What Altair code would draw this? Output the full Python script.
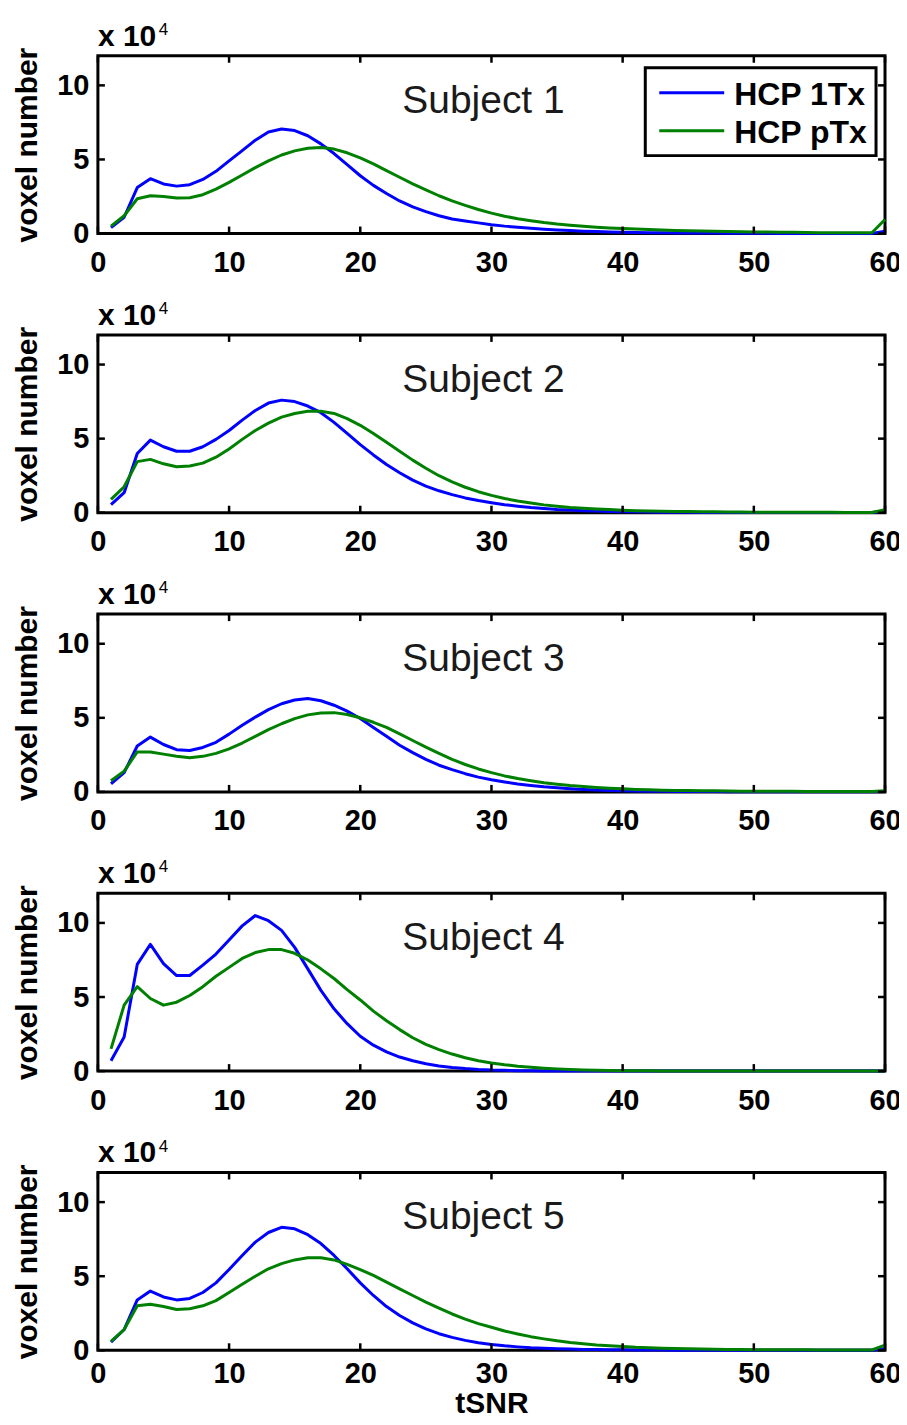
import altair as alt
import pandas as pd

# ---------------- data ----------------
tsnr = list(range(1, 61))
series_names = ["HCP 1Tx", "HCP pTx"]
series_colors = ["#0000ff", "#008000"]
subjects = ["Subject 1", "Subject 2", "Subject 3", "Subject 4", "Subject 5"]
x_ticks = [0, 10, 20, 30, 40, 50, 60]
y_ticks = [0, 5, 10]
exp_base = "x 10"
exp_power = "4"
x_title = "tSNR"
y_title = "voxel number"

# voxel number (x 10^4) per tSNR bin 1..60
s1_1tx = [0.4, 1.1, 3.1, 3.7, 3.35, 3.2, 3.3, 3.65, 4.2, 4.9,
          5.6, 6.3, 6.85, 7.05, 6.95, 6.6, 6.05, 5.4, 4.65, 3.9,
          3.25, 2.7, 2.2, 1.8, 1.48, 1.2, 0.98, 0.85, 0.72, 0.6,
          0.5, 0.42, 0.35, 0.29, 0.24, 0.2, 0.16, 0.13, 0.11, 0.09,
          0.07, 0.06, 0.05, 0.04, 0.04, 0.03, 0.03, 0.02, 0.02, 0.02,
          0.02, 0.01, 0.01, 0.01, 0.01, 0.01, 0.01, 0.01, 0.01, 0.15]
s1_ptx = [0.5, 1.2, 2.35, 2.55, 2.5, 2.4, 2.42, 2.62, 3.0, 3.45,
          3.95, 4.45, 4.9, 5.3, 5.58, 5.75, 5.8, 5.7, 5.45, 5.1,
          4.7, 4.25, 3.8, 3.35, 2.95, 2.55, 2.2, 1.9, 1.62, 1.38,
          1.17, 1.0, 0.86, 0.74, 0.64, 0.56, 0.49, 0.43, 0.38, 0.34,
          0.3, 0.27, 0.24, 0.21, 0.19, 0.17, 0.15, 0.13, 0.12, 0.11,
          0.1, 0.09, 0.08, 0.07, 0.06, 0.06, 0.05, 0.05, 0.05, 0.95]
s2_1tx = [0.55, 1.35, 4.0, 4.9, 4.45, 4.15, 4.15, 4.45, 4.95, 5.55,
          6.25, 6.9, 7.4, 7.6, 7.5, 7.2, 6.75, 6.1, 5.35, 4.6,
          3.9, 3.25, 2.7, 2.2, 1.8, 1.48, 1.22, 1.0, 0.82, 0.67,
          0.54, 0.44, 0.35, 0.28, 0.22, 0.18, 0.14, 0.11, 0.09, 0.07,
          0.06, 0.05, 0.04, 0.03, 0.03, 0.02, 0.02, 0.02, 0.01, 0.01,
          0.01, 0.01, 0.01, 0.01, 0.01, 0.01, 0.01, 0.01, 0.01, 0.1]
s2_ptx = [0.9, 1.75, 3.45, 3.6, 3.3, 3.1, 3.15, 3.35, 3.75, 4.3,
          4.95, 5.55, 6.05, 6.45, 6.7, 6.85, 6.85, 6.7, 6.35, 5.9,
          5.35, 4.75, 4.15, 3.55, 3.0, 2.5, 2.08, 1.72, 1.42, 1.17,
          0.96, 0.79, 0.65, 0.53, 0.44, 0.36, 0.3, 0.25, 0.21, 0.17,
          0.14, 0.12, 0.1, 0.09, 0.08, 0.07, 0.06, 0.05, 0.05, 0.04,
          0.04, 0.04, 0.03, 0.03, 0.03, 0.03, 0.02, 0.02, 0.02, 0.2]
s3_1tx = [0.55, 1.3, 3.1, 3.7, 3.2, 2.85, 2.8, 3.0, 3.35, 3.9,
          4.5, 5.05, 5.55, 5.95, 6.2, 6.3, 6.15, 5.85, 5.45, 4.95,
          4.35, 3.75, 3.15, 2.65, 2.2, 1.8, 1.5, 1.23, 1.0, 0.82,
          0.67, 0.54, 0.44, 0.35, 0.28, 0.22, 0.17, 0.13, 0.1, 0.08,
          0.06, 0.05, 0.04, 0.03, 0.02, 0.02, 0.02, 0.01, 0.01, 0.01,
          0.01, 0.01, 0.01, 0.01, 0.01, 0.01, 0.01, 0.01, 0.01, 0.03]
s3_ptx = [0.75, 1.4, 2.7, 2.7, 2.55, 2.4, 2.3, 2.4, 2.6, 2.9,
          3.3, 3.75, 4.2, 4.6, 4.95, 5.2, 5.33, 5.35, 5.22, 5.0,
          4.7, 4.35, 3.92, 3.47, 3.02, 2.6, 2.2, 1.85, 1.55, 1.3,
          1.08, 0.9, 0.75, 0.62, 0.52, 0.43, 0.36, 0.3, 0.25, 0.21,
          0.17, 0.14, 0.12, 0.1, 0.09, 0.08, 0.07, 0.06, 0.05, 0.05,
          0.04, 0.04, 0.04, 0.03, 0.03, 0.03, 0.03, 0.02, 0.02, 0.08]
s4_1tx = [0.7, 2.3, 7.2, 8.55, 7.25, 6.45, 6.45, 7.15, 7.9, 8.85,
          9.8, 10.5, 10.15, 9.5, 8.35, 6.9, 5.45, 4.2, 3.2, 2.35,
          1.75, 1.3, 0.95, 0.7, 0.5, 0.35, 0.25, 0.17, 0.11, 0.07,
          0.05, 0.03, 0.02, 0.01, 0.01, 0.01, 0.01, 0.0, 0.0, 0.0,
          0.0, 0.0, 0.0, 0.0, 0.0, 0.0, 0.0, 0.0, 0.0, 0.0,
          0.0, 0.0, 0.0, 0.0, 0.0, 0.0, 0.0, 0.0, 0.0, 0.0]
s4_ptx = [1.5, 4.45, 5.7, 4.9, 4.45, 4.65, 5.1, 5.7, 6.4, 7.0,
          7.6, 8.0, 8.2, 8.2, 7.95, 7.5, 6.9, 6.25, 5.5, 4.8,
          4.05, 3.4, 2.8, 2.25, 1.8, 1.45, 1.15, 0.9, 0.7, 0.55,
          0.43, 0.33, 0.26, 0.2, 0.15, 0.11, 0.08, 0.06, 0.04, 0.03,
          0.02, 0.02, 0.01, 0.01, 0.01, 0.0, 0.0, 0.0, 0.0, 0.0,
          0.0, 0.0, 0.0, 0.0, 0.0, 0.0, 0.0, 0.0, 0.0, 0.0]
s5_1tx = [0.55, 1.4, 3.4, 4.0, 3.6, 3.4, 3.5, 3.9, 4.55, 5.45,
          6.4, 7.3, 7.95, 8.3, 8.2, 7.8, 7.2, 6.4, 5.5, 4.55,
          3.7, 2.95, 2.35, 1.85, 1.45, 1.12, 0.87, 0.67, 0.51, 0.39,
          0.3, 0.23, 0.17, 0.13, 0.1, 0.08, 0.06, 0.05, 0.04, 0.03,
          0.02, 0.02, 0.02, 0.01, 0.01, 0.01, 0.01, 0.01, 0.01, 0.01,
          0.01, 0.01, 0.01, 0.01, 0.01, 0.01, 0.01, 0.01, 0.01, 0.1]
s5_ptx = [0.6, 1.4, 3.0, 3.1, 2.95, 2.75, 2.8, 3.0, 3.35, 3.9,
          4.45, 5.0, 5.5, 5.85, 6.1, 6.25, 6.25, 6.1, 5.8, 5.45,
          5.05, 4.6, 4.15, 3.7, 3.25, 2.85, 2.45, 2.1, 1.8, 1.55,
          1.3, 1.1, 0.92, 0.77, 0.64, 0.53, 0.44, 0.36, 0.3, 0.25,
          0.2, 0.17, 0.14, 0.12, 0.1, 0.08, 0.07, 0.06, 0.05, 0.04,
          0.04, 0.03, 0.03, 0.03, 0.02, 0.02, 0.02, 0.02, 0.02, 0.35]

subject_series = [(s1_1tx, s1_ptx), (s2_1tx, s2_ptx), (s3_1tx, s3_ptx),
                  (s4_1tx, s4_ptx), (s5_1tx, s5_ptx)]

# ---------------- layout ----------------
W, H = 788, 178
FONT = "Liberation Sans"
TICK_LEN = 7

xs = alt.Scale(domain=[0, 60], nice=False, zero=False)
ys = alt.Scale(domain=[0, 12], nice=False)
cs = alt.Scale(domain=series_names, range=series_colors)

xtick_df = pd.DataFrame({"v": x_ticks})
ytick_df = pd.DataFrame({"v": y_ticks})


def make_panel(idx):
    a, b = subject_series[idx]
    df = pd.DataFrame({
        "tSNR": tsnr + tsnr,
        "count": a + b,
        "series": [series_names[0]] * len(tsnr) + [series_names[1]] * len(tsnr),
    })
    last = idx == len(subjects) - 1
    xaxis = alt.Axis(values=x_ticks, ticks=False, tickSize=0, domain=False, grid=False,
                     labelFont=FONT, labelFontSize=29, labelFontWeight="bold",
                     labelColor="black", labelPadding=9 if last else 15,
                     labelFlush=False,
                     title=x_title if last else None,
                     titleFont=FONT, titleFontSize=30, titleFontWeight="bold",
                     titleColor="black", titlePadding=0)
    yaxis = alt.Axis(values=y_ticks, ticks=False, tickSize=0, domain=False, grid=False,
                     labelFont=FONT, labelFontSize=29, labelFontWeight="bold",
                     labelColor="black", labelPadding=9,
                     title=y_title, titleFont=FONT, titleFontSize=30,
                     titleFontWeight="bold", titleColor="black", titlePadding=14)
    lines = alt.Chart(df).mark_line(strokeWidth=3, strokeJoin="round").encode(
        x=alt.X("tSNR:Q", scale=xs, axis=xaxis),
        y=alt.Y("count:Q", scale=ys, axis=yaxis),
        color=alt.Color("series:N", scale=cs, legend=None),
        order=alt.Order("tSNR:Q"),
    )
    tick_style = dict(color="black", strokeWidth=2.5)
    bt = alt.Chart(xtick_df).mark_rule(**tick_style).encode(
        x=alt.X("v:Q", scale=xs, axis=xaxis), y=alt.value(H), y2=alt.value(H - TICK_LEN))
    tt = alt.Chart(xtick_df).mark_rule(**tick_style).encode(
        x=alt.X("v:Q", scale=xs, axis=xaxis), y=alt.value(0), y2=alt.value(TICK_LEN))
    lt = alt.Chart(ytick_df).mark_rule(**tick_style).encode(
        y=alt.Y("v:Q", scale=ys, axis=yaxis), x=alt.value(0), x2=alt.value(TICK_LEN))
    rt = alt.Chart(ytick_df).mark_rule(**tick_style).encode(
        y=alt.Y("v:Q", scale=ys, axis=yaxis), x=alt.value(W), x2=alt.value(W - TICK_LEN))
    subj = alt.Chart(pd.DataFrame({"t": [subjects[idx]]})).mark_text(
        font=FONT, fontSize=39, color="#1a1a1a", align="center", baseline="middle"
    ).encode(text="t:N", x=alt.value(386), y=alt.value(45))
    e1 = alt.Chart(pd.DataFrame({"t": [exp_base]})).mark_text(
        font=FONT, fontSize=30, fontWeight="bold", color="black", align="left",
        baseline="alphabetic").encode(text="t:N", x=alt.value(0), y=alt.value(-10))
    e2 = alt.Chart(pd.DataFrame({"t": [exp_power]})).mark_text(
        font=FONT, fontSize=17, color="black", align="left",
        baseline="alphabetic").encode(text="t:N", x=alt.value(61), y=alt.value(-21))
    layers = [lines, bt, tt, lt, rt, subj, e1, e2]
    if idx == 0:
        box = alt.Chart(pd.DataFrame({"d": [0]})).mark_rect(
            fill="white", stroke="black", strokeWidth=3).encode(
            x=alt.value(548), x2=alt.value(779), y=alt.value(12), y2=alt.value(100))
        layers.append(box)
        for k, (nm, col) in enumerate(zip(series_names, series_colors)):
            yy = 37 + 38 * k
            ln = alt.Chart(pd.DataFrame({"d": [0]})).mark_rule(
                color=col, strokeWidth=3).encode(
                x=alt.value(562), x2=alt.value(627), y=alt.value(yy))
            tx = alt.Chart(pd.DataFrame({"t": [nm]})).mark_text(
                font=FONT, fontSize=32, fontWeight="bold", color="black",
                align="left", baseline="alphabetic").encode(
                text="t:N", x=alt.value(637), y=alt.value(yy + 12))
            layers += [ln, tx]
        anchor = alt.Chart(pd.DataFrame({"d": [0]})).mark_rule(
            color="white", strokeWidth=1).encode(
            x=alt.value(-88), y=alt.value(-45), y2=alt.value(-44))
        layers.append(anchor)
    return alt.layer(*layers).properties(width=W, height=H)


panels = [make_panel(i) for i in range(len(subjects))]

chart = alt.vconcat(*panels, spacing=101.5, bounds="flush").properties(
    padding={"left": 0, "top": 0, "right": -4, "bottom": -6}
).configure(
    background="white"
).configure_view(
    stroke="black", strokeWidth=3
)

chart.save("out.html", embed_options={"renderer": "svg", "actions": False})
